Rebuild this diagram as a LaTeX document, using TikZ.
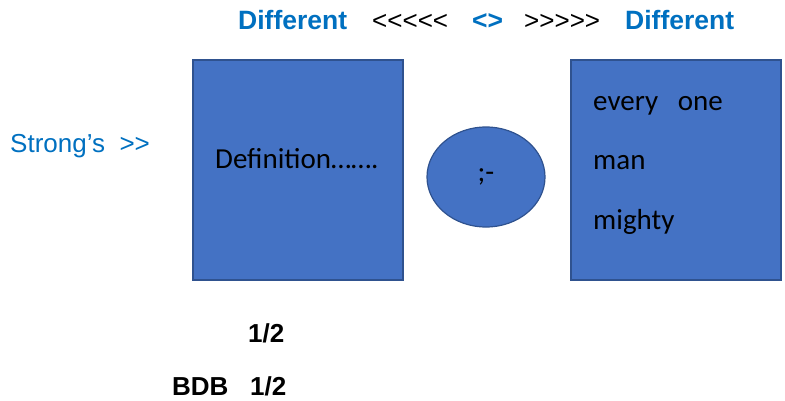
\documentclass[tikz,border=0pt]{standalone}
\usepackage{fontspec}
\setmainfont[Ligatures=TeXOff]{Liberation Sans}
\newfontfamily\calibri[Ligatures=TeXOff]{Carlito}
\usetikzlibrary{shapes.geometric}
\definecolor{boxfill}{HTML}{4472C4}
\definecolor{boxline}{HTML}{2F528F}
\definecolor{txtblue}{HTML}{0070C0}
\tikzset{
  bluebox/.style={draw=boxline, line width=1.2pt, fill=boxfill},
  hdr/.style={anchor=base west, inner sep=0pt, font=\fontsize{26.5}{30}\selectfont\bfseries, text=txtblue},
  arr/.style={anchor=base west, inner sep=0pt, font=\fontsize{26}{30}\selectfont, text=black},
  cal/.style={anchor=base west, inner sep=0pt, font=\calibri\fontsize{29}{33}\selectfont, text=black},
  foot/.style={anchor=base west, inner sep=0pt, font=\fontsize{26}{30}\selectfont\bfseries, text=black},
}
\begin{document}
\begin{tikzpicture}[x=1pt,y=-1pt]
\useasboundingbox (0,0) rectangle (785,400);
% boxes
\draw[bluebox] (193,60) rectangle (403,280);
\node[bluebox, ellipse, minimum width=118pt, minimum height=100pt, inner sep=0pt] (ell) at (486,177) {};
\draw[bluebox] (571,60) rectangle (781,280);
% header
\node[hdr] (d1) at (238,29) {Different};
\node[arr] (l5) at (372,29) {<<<<<};
\node[hdr] (ne) at (472,29) {<>};
\node[arr] (r5) at (524,29) {>>>>>};
\node[hdr] (d2) at (625,29) {Different};
% left label
\node[anchor=base west, inner sep=0pt, font=\fontsize{26}{30}\selectfont, text=txtblue] (st) at (10,152) {Strong’s~~>>};
% box texts
\node[cal] (def) at (215,168) {Definition…….};
\node[cal, anchor=center] (semi) at (ell.center) {;-};
\node[cal] (ev) at (593,110) {every~~~one};
\node[cal] (man) at (593,169) {man};
\node[cal] (mi) at (593,229) {mighty};
% footer
\node[foot] (h1) at (248,342) {1/2};
\node[foot] (bdb) at (172,395) {BDB~~~1/2};
\end{tikzpicture}
\end{document}
